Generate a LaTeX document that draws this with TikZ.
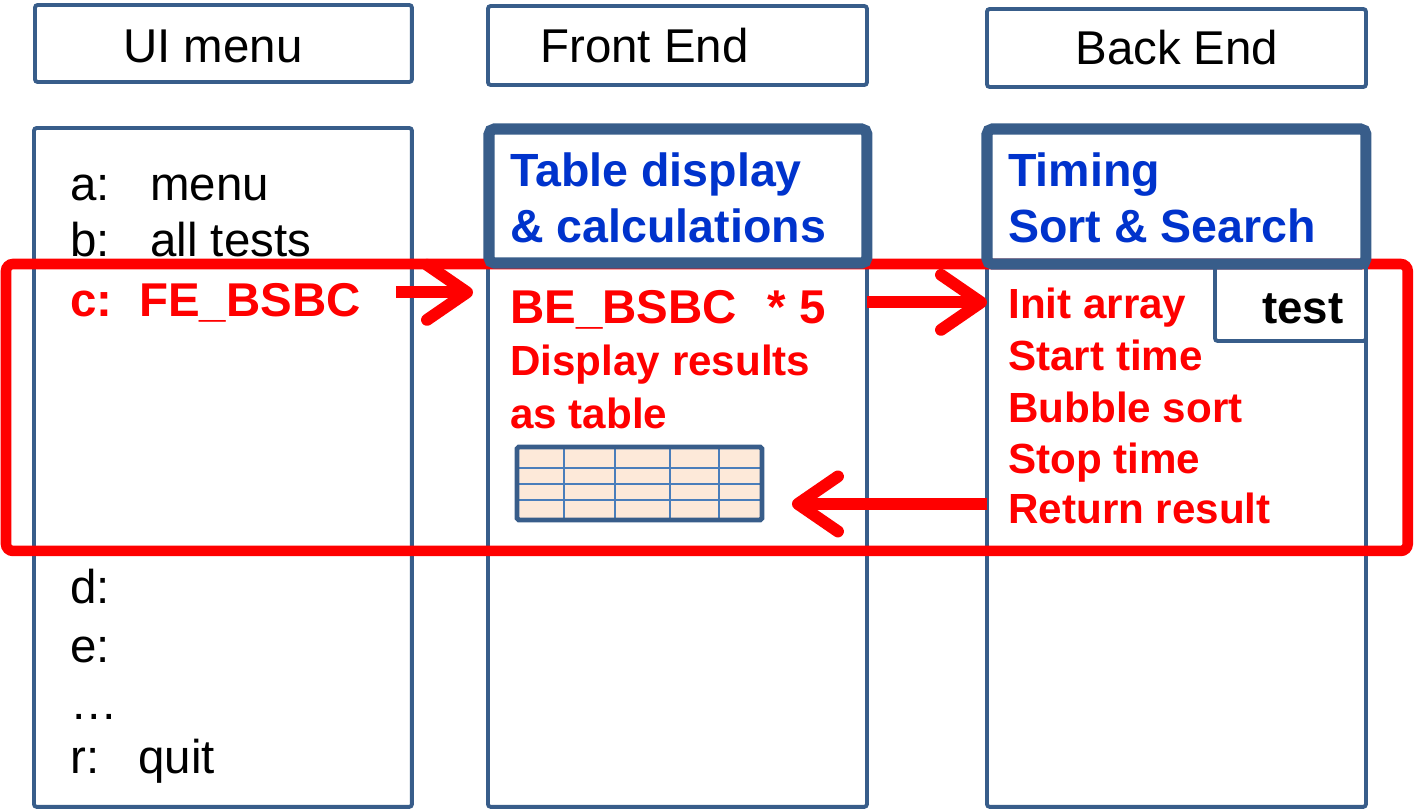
\documentclass[tikz,border=0pt]{standalone}
\usepackage{fontspec}
\setmainfont{Liberation Sans}
\usetikzlibrary{arrows.meta, positioning, calc}
\definecolor{frameblue}{RGB}{56,93,138}
\definecolor{gridblue}{RGB}{74,126,187}
\definecolor{titleblue}{RGB}{0,51,204}
\definecolor{cellpeach}{RGB}{253,233,217}
\definecolor{hotred}{RGB}{255,0,0}

\begin{document}
\begin{tikzpicture}[
  x=0.02cm, y=-0.02cm,
  box/.style={draw=frameblue, line width=2.2pt, rounded corners=1.5pt,
              inner sep=0pt, outer sep=0pt, anchor=north west},
  headbox/.style={box, line width=6.3pt, rounded corners=3pt},
  focusbox/.style={draw=hotred, line width=6pt, rounded corners=4pt,
                   inner sep=0pt, outer sep=0pt, anchor=north west},
  txt/.style={anchor=base west, inner sep=0pt, font=\fontsize{27}{32}\selectfont},
  redopt/.style={txt, font=\fontsize{27}{32}\selectfont\bfseries, text=hotred},
  title/.style={txt, font=\fontsize{26.5}{32}\selectfont\bfseries, text=titleblue},
  redtxt/.style={txt, font=\fontsize{24}{29}\selectfont\bfseries, text=hotred},
  bigarr/.style={hotred, line width=6.8pt, -{Straight Barb[round, length=0.8cm, width=1.1cm]}},
  gridline/.style={gridblue, line width=1.1pt},
]

\useasboundingbox (0,0) rectangle (1416,811);

% header boxes
\node[box, minimum width=7.54cm, minimum height=1.54cm] (uihead) at (35,5) {};
\node[box, minimum width=7.58cm, minimum height=1.58cm] (fehead) at (488,6) {};
\node[box, minimum width=7.58cm, minimum height=1.56cm] (behead) at (987,9) {};
\node[txt] (uititle) at (123,63) {UI menu};
\node[txt] (fetitle) at (540,63) {Front End};
\node[txt] (betitle) at (1075,65) {Back End};

% columns
\node[box, minimum width=7.56cm, minimum height=13.58cm] (uicol) at (34,128) {};
\node[box, minimum width=7.58cm, minimum height=13.56cm] (fecol) at (488,129) {};
\node[box, minimum width=7.58cm, minimum height=13.56cm] (becol) at (987,129) {};

% the c: path through all layers
\node[focusbox, minimum width=28.04cm, minimum height=5.74cm] (focus) at (6,264) {};

% layer headings
\node[headbox, minimum width=7.56cm, minimum height=2.68cm] (fetop) at (489,129) {};
\node[headbox, minimum width=7.58cm, minimum height=2.7cm] (betop) at (987,129) {};
\node[title] (fetop1) at (510,186) {Table display};
\node[title] (fetop2) at (510,242) {\& calculations};
\node[title] (betop1) at (1008,186) {Timing};
\node[title] (betop2) at (1008,242) {Sort \& Search};

% test tab
\node[box, minimum width=3.02cm, minimum height=1.52cm] (testbox) at (1215,265) {};
\node[txt, font=\fontsize{26}{31}\selectfont\bfseries] (testlbl) at (1262,323) {test};

% menu options
\node[txt] (opta) at (70,200) {\makebox[1.6cm][l]{a:}menu};
\node[txt] (optb) at (70,256) {\makebox[1.6cm][l]{b:}all tests};
\node[redopt] (optc) at (70,316) {\makebox[1.38cm][l]{c:}FE\_BSBC};
\node[txt] (optd) at (70,603) {d:};
\node[txt] (opte) at (70,662) {e:};
\node[txt] (optdots) at (70,719) {…};
\node[txt] (optr) at (70,773) {\makebox[1.36cm][l]{r:}quit};

% front end
\node[redopt] (beloop) at (510,323) {BE\_BSBC\hspace{0.62cm}* 5};
\node[redtxt] (disp1) at (510,375) {Display results};
\node[redtxt] (disp2) at (510,428) {as table};

% result table
\node[fill=cellpeach, minimum width=4.9cm, minimum height=1.46cm,
      inner sep=0pt, outer sep=0pt, anchor=north west] (tbl) at (517,447) {};
\foreach \gx in {564,615,670,719} \draw[gridline] (\gx,447) -- (\gx,520);
\foreach \gy in {468,484,500} \draw[gridline] (517,\gy) -- (762,\gy);
\draw[frameblue, line width=2.8pt, rounded corners=1pt] (tbl.north west) rectangle (tbl.south east);

% back end
\node[redtxt] (init) at (1008,318) {Init array};
\node[redtxt] (start) at (1008,370) {Start time};
\node[redtxt] (bubble) at (1008,422) {Bubble sort};
\node[redtxt] (stop) at (1008,473) {Stop time};
\node[redtxt] (ret) at (1008,523) {Return result};

% calls and result
\draw[bigarr] ([xshift=0.7cm, yshift=0.2cm]optc.east) -- ([xshift=-0.3cm, yshift=0.2cm]optc.east -| fecol.west);
\draw[bigarr] ([yshift=0.14cm]beloop.east -| fecol.east) -- ([yshift=0.14cm]beloop.east -| becol.west);
\draw[bigarr] ([yshift=0.08cm]ret.west -| becol.west) -- ([xshift=0.6cm, yshift=0.08cm]ret.west -| tbl.east);

\end{tikzpicture}
\end{document}
